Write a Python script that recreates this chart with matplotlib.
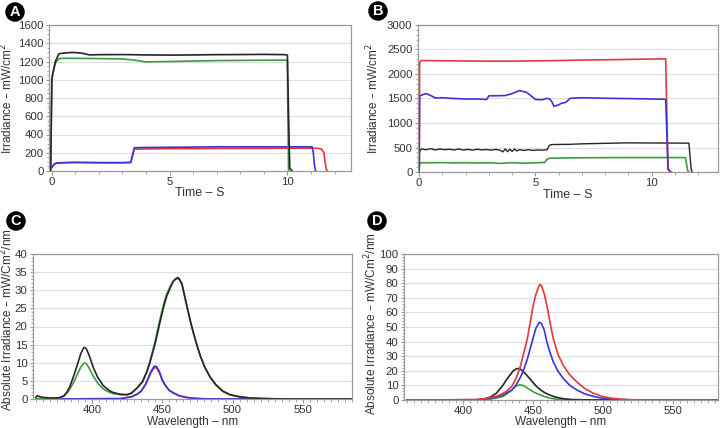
import numpy as np
import matplotlib
matplotlib.use("Agg")
import matplotlib.pyplot as plt
from matplotlib.ticker import MultipleLocator

plt.rcParams['font.family'] = ['Liberation Sans', 'DejaVu Sans']

RED = '#e5373c'
BLUE = '#3b35d6'
GREEN = '#3f9a3f'
BLACK = '#262626'

# ---- panel A : irradiance vs time ----
a_black_t = [-0.05, 0.0, 0.05, 0.15, 0.3, 0.5, 0.8, 1.0, 1.3, 1.6, 2.0, 3.0, 4.0, 5.0, 6.0, 7.0, 8.0, 9.0, 9.9, 10.0, 10.05, 10.1, 10.2]
a_black_v = [0, 1000, 1080, 1200, 1285, 1292, 1298, 1298, 1290, 1272, 1275, 1276, 1272, 1270, 1272, 1275, 1276, 1278, 1275, 1270, 600, 30, 0]
a_green_t = [-0.05, 0.0, 0.05, 0.15, 0.3, 0.5, 1.0, 2.0, 3.0, 3.5, 4.0, 4.5, 5.0, 6.0, 7.0, 8.0, 9.0, 10.0, 10.02, 10.05]
a_green_v = [0, 1000, 1080, 1180, 1232, 1235, 1235, 1232, 1228, 1215, 1195, 1198, 1200, 1205, 1210, 1212, 1214, 1215, 600, 0]
a_blue_t = [0, 0.1, 0.2, 0.5, 1, 2, 3, 3.35, 3.45, 3.5, 4, 5, 6, 7, 8, 9, 10, 11.05, 11.1, 11.15, 11.2]
a_blue_v = [40, 75, 88, 92, 95, 92, 92, 95, 200, 255, 258, 260, 262, 265, 265, 265, 265, 265, 200, 60, 0]
a_red_t = [0, 0.1, 0.2, 0.5, 1, 2, 3, 3.35, 3.45, 3.5, 4, 5, 6, 7, 8, 9, 10, 11, 11.3, 11.45, 11.55, 11.6, 11.65, 11.7]
a_red_v = [40, 75, 85, 90, 93, 90, 90, 92, 190, 240, 242, 245, 245, 247, 248, 248, 250, 250, 248, 240, 200, 100, 20, 0]

# ---- panel B ----
b_red_t = [0, 0.02, 0.1, 1, 2, 3, 4, 5, 6, 7, 8, 9, 10, 10.6, 10.65, 10.7, 10.75, 10.85]
b_red_v = [0, 2250, 2275, 2270, 2265, 2262, 2262, 2268, 2275, 2285, 2290, 2298, 2305, 2310, 1200, 100, 20, 0]
b_blue_t = [0, 0.02, 0.1, 0.3, 0.5, 0.7, 1.0, 1.5, 2, 2.5, 2.9, 3.0, 3.2, 3.7, 4.0, 4.3, 4.6, 4.8, 5.0, 5.3, 5.45,
            5.6, 5.7, 5.8, 6.0, 6.1, 6.3, 6.5, 7, 8, 9, 10, 10.55, 10.6, 10.65, 10.7, 10.8]
b_blue_v = [0, 1550, 1570, 1600, 1560, 1510, 1515, 1500, 1490, 1490, 1480, 1555, 1555, 1560, 1600, 1660, 1630, 1560, 1480, 1475, 1500,
            1495, 1440, 1340, 1370, 1400, 1420, 1505, 1515, 1505, 1498, 1490, 1485, 1480, 800, 60, 0]
b_black_t = [0, 0.02, 0.1, 0.3, 0.5, 0.7, 0.9, 1.1, 1.3, 1.5, 1.7, 1.9, 2.1, 2.3, 2.5, 2.7, 2.9, 3.1, 3.3, 3.5, 3.6, 3.7,
             3.8, 3.9, 4.0, 4.1, 4.2, 4.3, 4.5, 4.7, 4.9, 5.1, 5.3, 5.5, 5.6, 5.7, 6, 6.5, 7, 7.5, 8, 8.5, 9, 10, 11,
             11.6, 11.65, 11.7, 11.75]
b_black_v = [0, 420, 470, 455, 475, 450, 470, 455, 465, 450, 470, 448, 462, 445, 465, 450, 460, 445, 462, 440, 410, 470,
             415, 465, 420, 470, 430, 455, 440, 455, 440, 450, 445, 455, 545, 560, 562, 565, 575, 580, 585, 590, 595, 592, 590,
             588, 300, 40, 0]
b_green_t = [0, 0.02, 0.1, 0.5, 1, 1.5, 2, 2.5, 3, 3.5, 4, 4.5, 5, 5.4, 5.5, 5.6, 6, 7, 8, 9, 10, 11, 11.45, 11.5, 11.55, 11.6]
b_green_v = [0, 170, 190, 188, 192, 186, 190, 185, 188, 175, 190, 180, 188, 195, 260, 280, 285, 290, 293, 295, 295, 295, 293, 150, 20, 0]

# ---- panel C : spectra ----
c_black_wl = [360, 361, 363, 366, 370, 375, 377, 380, 382, 384, 387, 390, 392, 394, 395, 396, 398, 401, 404, 408, 412, 415,
              420, 425, 428, 432, 436, 439, 441, 443, 445, 448, 451, 453, 456, 458, 460, 461, 462, 464, 467, 470, 472, 475,
              477, 480, 484, 488, 493, 498, 505, 512, 520, 530, 545, 590]
c_black_v = [0.5, 0.9, 0.6, 0.4, 0.3, 0.3, 0.4, 0.9, 1.8, 3.2, 6.4, 10.0, 12.5, 14.1, 14.2, 13.8, 12.0, 8.6, 6.0, 3.7, 2.4, 1.8,
             1.3, 1.2, 1.6, 3.0, 4.8, 7.5, 9.8, 12.6, 15.4, 20.6, 25.5, 28.2, 31.0, 32.6, 33.3, 33.5, 33.2, 31.8, 26.5, 21.5, 18.5,
             14.4, 12.0, 9.0, 6.1, 4.0, 2.2, 1.2, 0.6, 0.3, 0.15, 0.05, 0, 0]
c_green_wl = [360, 370, 377, 380, 383, 387, 390, 392, 394, 395, 396, 398, 401, 404, 408, 412, 415, 420, 425, 428, 432, 436,
              439, 441, 443, 445, 448, 451, 453, 456, 458, 460, 461, 462, 464, 467, 470, 472, 475, 477, 480, 484, 488, 493,
              498, 505, 512, 520, 530, 545, 590]
c_green_v = [0.1, 0.1, 0.3, 0.8, 2.0, 4.6, 7.2, 8.8, 9.8, 9.9, 9.7, 8.5, 6.2, 4.4, 2.8, 1.9, 1.5, 1.2, 1.2, 1.6, 3.0, 4.8,
             7.6, 10.0, 13.0, 16.0, 21.4, 26.2, 28.8, 31.4, 32.6, 33.1, 33.2, 33.0, 31.6, 26.4, 21.4, 18.4,
             14.3, 11.9, 8.9, 6.0, 3.9, 2.1, 1.2, 0.6, 0.3, 0.15, 0.05, 0, 0]
c_blue_wl = [360, 420, 428, 432, 435, 438, 440, 442, 444, 445, 446, 448, 450, 452, 455, 458, 462, 467, 472, 480, 490, 590]
c_blue_v = [0, 0.1, 0.6, 1.3, 2.2, 4.0, 5.8, 7.6, 8.9, 9.1, 8.9, 7.5, 5.3, 3.9, 2.4, 1.7, 0.9, 0.45, 0.2, 0.05, 0, 0]
c_red_wl = [360, 420, 428, 432, 435, 438, 440, 442, 444, 445, 446, 448, 450, 452, 455, 458, 462, 467, 472, 480, 490, 590]
c_red_v = [0, 0.1, 0.6, 1.3, 2.1, 3.9, 5.6, 7.3, 8.5, 8.7, 8.5, 7.2, 5.1, 3.8, 2.3, 1.6, 0.9, 0.45, 0.2, 0.05, 0, 0]

# ---- panel D ----
d_red_wl = [360, 410, 418, 424, 428, 431, 435, 438, 441, 443, 446, 448, 450, 452, 454, 455, 456, 458, 460, 462, 464.5,
            468, 471.5, 476, 481, 487, 493, 499, 505, 512, 520, 530, 590]
d_red_v = [0, 0.2, 1.3, 2.5, 4.2, 5.9, 9.5, 14.9, 23, 30.6, 42, 53, 64, 72, 77.5, 79.1, 78.5, 73, 64.4, 54, 41.9,
           31, 23.9, 17.5, 12.6, 7.8, 4.7, 2.6, 1.4, 0.6, 0.2, 0.05, 0]
d_blue_wl = [360, 410, 418, 424, 428, 431, 435, 438, 441, 443, 446, 448, 450, 452, 454.5, 456, 458, 460, 462, 464.5,
             468, 471.5, 476, 481, 487, 493, 499, 505, 512, 520, 530, 590]
d_blue_v = [0, 0.2, 1.0, 2.0, 3.2, 4.7, 6.8, 10.4, 15.5, 19.8, 28, 35.1, 42, 49, 53.2, 52.5, 48, 39.6, 33, 26.1,
            19.5, 14.9, 10.3, 7.0, 4.2, 2.5, 1.3, 0.7, 0.3, 0.1, 0, 0]
d_black_wl = [360, 410, 416, 420, 424, 428.8, 431, 433.6, 436, 438, 439.5, 441, 443, 445.5, 448, 450, 452.6, 456, 459, 462,
              466, 471.5, 478, 490, 590]
d_black_v = [0, 0.2, 0.9, 2.2, 4.7, 10.4, 13.8, 17.1, 20.0, 21.3, 21.6, 21.2, 19.6, 17.1, 14.3, 12.0, 9.2, 6.5, 4.7, 3.4,
             2.0, 0.9, 0.3, 0.05, 0]
d_green_wl = [360, 412, 420, 425, 428.8, 431, 433.6, 436, 438.5, 440.7, 443, 445, 447.9, 451, 455, 458, 462, 467, 475, 590]
d_green_v = [0, 0.1, 0.7, 1.6, 2.5, 4.0, 5.9, 8.0, 9.8, 10.4, 9.9, 8.8, 7.0, 5.2, 3.6, 2.4, 1.3, 0.5, 0.1, 0]

TXT = '#333333'
SPINE = '#9a9a9a'

fig = plt.figure(figsize=(7.23, 4.28), dpi=100)


def style(ax, ylim, ystep, xlim, xmajor, xminor, yminor):
    ax.set_xlim(*xlim)
    ax.set_ylim(*ylim)
    ax.yaxis.set_major_locator(MultipleLocator(ystep))
    ax.yaxis.set_minor_locator(MultipleLocator(yminor))
    ax.xaxis.set_major_locator(MultipleLocator(xmajor))
    ax.xaxis.set_minor_locator(MultipleLocator(xminor))
    ax.grid(axis='y', which='major', color='#dedede', lw=0.8)
    ax.set_axisbelow(True)
    for s in ax.spines.values():
        s.set_color(SPINE)
        s.set_linewidth(0.9)
    ax.tick_params(which='both', colors=SPINE, labelcolor=TXT, labelsize=8.2, pad=1.5)
    ax.tick_params(axis='y', which='major', length=2.5, direction='out')
    ax.tick_params(axis='y', which='minor', length=1.5, direction='out')
    ax.tick_params(axis='x', which='major', length=3, direction='out')
    ax.tick_params(axis='x', which='minor', length=2.5, direction='out')
    ax.tick_params(axis='x', which='major', pad=1)


def badge(x, y, letter):
    fig.text(x / 723, 1 - y / 428, letter, color='white', fontsize=10.5, fontweight='bold',
             ha='center', va='center', zorder=5,
             bbox=dict(boxstyle='circle,pad=0.14', fc='black', ec='black'))


lw = 1.2

# A
axA = fig.add_axes([49 / 723, 1 - 171 / 428, 302 / 723, 146 / 428])
axA.plot(a_red_t, a_red_v, color=RED, lw=lw)
axA.plot(a_blue_t, a_blue_v, color=BLUE, lw=lw)
axA.plot(a_green_t, a_green_v, color=GREEN, lw=lw)
axA.plot(a_black_t, a_black_v, color=BLACK, lw=lw)
style(axA, (0, 1600), 200, (-0.12, 12.7), 5, 1, 50)
axA.set_ylabel('Irradiance – mW/cm$^2$', fontsize=8.5, color=TXT)
axA.yaxis.set_label_coords(-0.112, 0.5)
axA.set_xlabel('Time – S', fontsize=9, color=TXT)
axA.xaxis.set_label_coords(0.5, -0.11)

# B
axB = fig.add_axes([418 / 723, 1 - 172 / 428, 300 / 723, 147 / 428])
axB.plot(b_green_t, b_green_v, color=GREEN, lw=lw)
axB.plot(b_black_t, b_black_v, color=BLACK, lw=1.0)
axB.plot(b_red_t, b_red_v, color=RED, lw=lw)
axB.plot(b_blue_t, b_blue_v, color=BLUE, lw=lw)
style(axB, (0, 3000), 500, (-0.05, 12.85), 5, 1, 100)
axB.set_ylabel('Irradiance – mW/cm$^2$', fontsize=8.5, color=TXT)
axB.yaxis.set_label_coords(-0.122, 0.5)
axB.set_xlabel('Time – S', fontsize=9, color=TXT)
axB.xaxis.set_label_coords(0.5, -0.115)

# C
axC = fig.add_axes([33 / 723, 1 - 399 / 428, 319 / 723, 145 / 428])
axC.plot(c_red_wl, c_red_v, color=RED, lw=lw)
axC.plot(c_blue_wl, c_blue_v, color=BLUE, lw=lw)
axC.plot(c_green_wl, c_green_v, color=GREEN, lw=lw)
axC.plot(c_black_wl, c_black_v, color=BLACK, lw=lw)
style(axC, (0, 40), 5, (358, 585), 50, 5, 1)
axC.set_ylabel('Absolute Irradiance – mW/Cm$^2$/nm', fontsize=8.5, color=TXT)
axC.yaxis.set_label_coords(-0.054, 0.55)
axC.set_xlabel('Wavelength – nm', fontsize=8.5, color=TXT)
axC.xaxis.set_label_coords(0.5, -0.118)

# D
axD = fig.add_axes([404 / 723, 1 - 400 / 428, 314 / 723, 146 / 428])
axD.plot(d_green_wl, d_green_v, color=GREEN, lw=lw)
axD.plot(d_black_wl, d_black_v, color=BLACK, lw=lw)
axD.plot(d_blue_wl, d_blue_v, color=BLUE, lw=lw)
axD.plot(d_red_wl, d_red_v, color=RED, lw=lw)
style(axD, (0, 100), 10, (358, 582), 50, 5, 2)
axD.set_ylabel('Absolute Irradiance – mW/Cm$^2$/nm', fontsize=8.5, color=TXT)
axD.yaxis.set_label_coords(-0.079, 0.52)
axD.set_xlabel('Wavelength – nm', fontsize=8.5, color=TXT)
axD.xaxis.set_label_coords(0.5, -0.11)

badge(15, 12, 'A')
badge(378, 11, 'B')
badge(16, 221, 'C')
badge(377, 221, 'D')

fig.savefig('out.png', dpi=100)
